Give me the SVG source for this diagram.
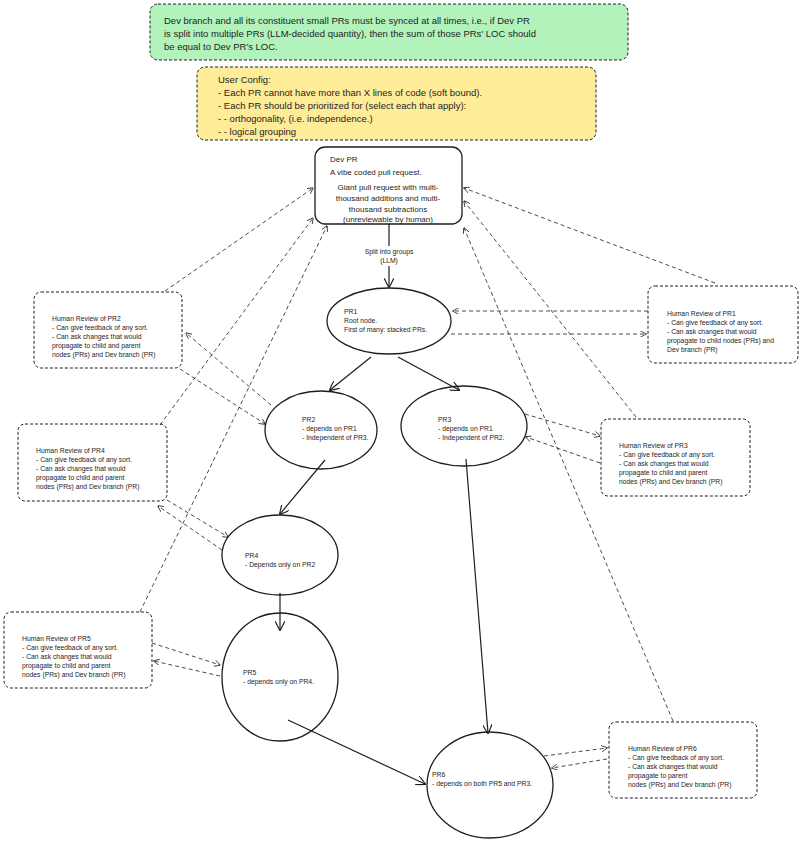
<svg xmlns="http://www.w3.org/2000/svg" width="800" height="841" viewBox="0 0 800 841">
<defs>
<marker id="a" viewBox="0 0 10 10" refX="9" refY="5" markerWidth="8" markerHeight="8" orient="auto-start-reverse"><path d="M0,0 L10,5 L0,10" fill="none" stroke="#1e1e1e" stroke-width="1.2"/></marker>
<style>
text{font-family:"Liberation Sans",Arial,sans-serif;fill:#1e1e1e}
.n{fill:#fff;stroke:#1e1e1e;stroke-width:1.3}
.r{fill:#fff;stroke:#1e1e1e;stroke-width:1;stroke-dasharray:3 2}
.s{fill:none;stroke:#1e1e1e;stroke-width:1.2;marker-end:url(#a)}
.d{fill:none;stroke:#1e1e1e;stroke-width:0.8;stroke-dasharray:4 3;marker-end:url(#a)}
.t{font-size:9.5px}
.m{font-size:8px}
.x{font-size:6.8px}
</style>
</defs>
<rect width="800" height="841" fill="#fff"/>
<g id="sync"><rect x="150" y="4" width="478" height="56" rx="8" fill="#b2f2bb" stroke="#1e1e1e" stroke-dasharray="3 2"/>
<text class="t" x="164" y="24">Dev branch and all its constituent small PRs must be synced at all times, i.e., if Dev PR</text>
<text class="t" x="164" y="37">is split into multiple PRs (LLM-decided quantity), then the sum of those PRs' LOC should</text>
<text class="t" x="164" y="50">be equal to Dev PR's LOC.</text></g>
<g id="config"><rect x="197" y="67" width="399" height="73" rx="8" fill="#ffec99" stroke="#1e1e1e" stroke-dasharray="3 2"/>
<text class="t" x="218" y="83">User Config:</text>
<text class="t" x="218" y="96">- Each PR cannot have more than X lines of code (soft bound).</text>
<text class="t" x="218" y="109">- Each PR should be prioritized for (select each that apply):</text>
<text class="t" x="218" y="122">- - orthogonality, (i.e. independence.)</text>
<text class="t" x="218" y="135">- - logical grouping</text></g>
<g id="devpr"><rect class="n" x="315" y="147" width="147" height="77" rx="10"/>
<text class="m" x="330" y="162">Dev PR</text>
<text class="m" x="330" y="175">A vibe coded pull request.</text>
<text class="m" text-anchor="middle" x="388" y="190">Giant pull request with multi-</text>
<text class="m" text-anchor="middle" x="388" y="201">thousand additions and multi-</text>
<text class="m" text-anchor="middle" x="388" y="212">thousand subtractions</text>
<text class="m" text-anchor="middle" x="388" y="222">(unreviewable by human)</text></g>
<g id="pr1"><ellipse class="n" cx="389" cy="321" rx="62" ry="33"/><text class="x" x="344" y="314">PR1</text><text class="x" x="344" y="323">Root node.</text><text class="x" x="344" y="332">First of many: stacked PRs.</text></g>
<g id="pr2"><ellipse class="n" cx="321" cy="430" rx="56" ry="39"/><text class="x" x="302" y="422">PR2</text><text class="x" x="302" y="431">- depends on PR1</text><text class="x" x="302" y="440">- Independent of PR3.</text></g>
<g id="pr3"><ellipse class="n" cx="464" cy="426" rx="63" ry="40"/><text class="x" x="438" y="422">PR3</text><text class="x" x="438" y="431">- depends on PR1</text><text class="x" x="438" y="440">- Independent of PR2.</text></g>
<g id="pr4"><ellipse class="n" cx="280" cy="555" rx="58" ry="40"/><text class="x" x="245" y="558">PR4</text><text class="x" x="245" y="567">- Depends only on PR2</text></g>
<g id="pr5"><ellipse class="n" cx="280" cy="677" rx="58" ry="64"/><text class="x" x="243" y="675">PR5</text><text class="x" x="243" y="684">- depends only on PR4.</text></g>
<g id="pr6"><ellipse class="n" cx="490" cy="785" rx="63" ry="53"/><text class="x" x="432" y="777">PR6</text><text class="x" x="432" y="786">- depends on both PR5 and PR3.</text></g>
<g id="rev1"><rect class="r" x="648" y="286" width="150" height="77" rx="7"/><text class="x" x="667" y="316">Human Review of PR1</text><text class="x" x="667" y="325">- Can give feedback of any sort.</text><text class="x" x="667" y="334">- Can ask changes that would</text><text class="x" x="667" y="343">propagate to child nodes (PRs) and</text><text class="x" x="667" y="352">Dev branch (PR)</text></g>
<g id="rev2"><rect class="r" x="34" y="292" width="148" height="76" rx="7"/><text class="x" x="52" y="321">Human Review of PR2</text><text class="x" x="52" y="330">- Can give feedback of any sort.</text><text class="x" x="52" y="339">- Can ask changes that would</text><text class="x" x="52" y="348">propagate to child and parent</text><text class="x" x="52" y="357">nodes (PRs) and Dev branch (PR)</text></g>
<g id="rev3"><rect class="r" x="601" y="419" width="149" height="77" rx="7"/><text class="x" x="619" y="448">Human Review of PR3</text><text class="x" x="619" y="457">- Can give feedback of any sort.</text><text class="x" x="619" y="466">- Can ask changes that would</text><text class="x" x="619" y="475">propagate to child and parent</text><text class="x" x="619" y="484">nodes (PRs) and Dev branch (PR)</text></g>
<g id="rev4"><rect class="r" x="18" y="424" width="149" height="77" rx="7"/><text class="x" x="36" y="453">Human Review of PR4</text><text class="x" x="36" y="462">- Can give feedback of any sort.</text><text class="x" x="36" y="471">- Can ask changes that would</text><text class="x" x="36" y="480">propagate to child and parent</text><text class="x" x="36" y="489">nodes (PRs) and Dev branch (PR)</text></g>
<g id="rev5"><rect class="r" x="4" y="612" width="148" height="76" rx="7"/><text class="x" x="22" y="641">Human Review of PR5</text><text class="x" x="22" y="650">- Can give feedback of any sort.</text><text class="x" x="22" y="659">- Can ask changes that would</text><text class="x" x="22" y="668">propagate to child and parent</text><text class="x" x="22" y="677">nodes (PRs) and Dev branch (PR)</text></g>
<g id="rev6"><rect class="r" x="609" y="722" width="148" height="76" rx="7"/><text class="x" x="628" y="751">Human Review of PR6</text><text class="x" x="628" y="760">- Can give feedback of any sort.</text><text class="x" x="628" y="769">- Can ask changes that would</text><text class="x" x="628" y="778">propagate to parent</text><text class="x" x="628" y="787">nodes (PRs) and Dev branch (PR)</text></g>
<g id="connectors">
<path class="s" d="M389,224 L389,287"/>
<rect x="360" y="246" width="58" height="20" fill="#fff"/>
<text class="x" text-anchor="middle" x="389" y="254">Split into groups</text>
<text class="x" text-anchor="middle" x="389" y="263">(LLM)</text>
<path class="s" d="M371,357 L330,390"/>
<path class="s" d="M398,357 L459,390"/>
<path class="s" d="M325,460 L280,514"/>
<path class="s" d="M466,459 L488,733"/>
<path class="s" d="M280,593 L280,630"/>
<path class="s" d="M288,720 L425,784"/>
<path class="d" d="M165,291 L313,188"/>
<path class="d" d="M160,425 L313,218"/>
<path class="d" d="M140,612 L327,226"/>
<path class="d" d="M715,283 L464,188"/>
<path class="d" d="M636,417 L464,201"/>
<path class="d" d="M673,721 L464,228"/>
<path class="d" d="M648,311 L453,311"/>
<path class="d" d="M451,334 L646,334"/>
<path class="d" d="M271,405 L186,333"/>
<path class="d" d="M180,369 L265,424"/>
<path class="d" d="M525,414 L600,436"/>
<path class="d" d="M600,463 L526,437"/>
<path class="d" d="M167,500 L228,537"/>
<path class="d" d="M222,550 L158,506"/>
<path class="d" d="M152,643 L220,665"/>
<path class="d" d="M220,676 L154,661"/>
<path class="d" d="M544,756 L607,748"/>
<path class="d" d="M607,759 L552,768"/>
</g>
</svg>
